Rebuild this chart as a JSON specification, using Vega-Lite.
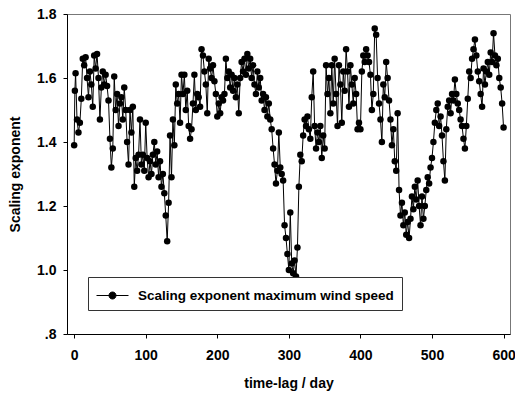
{
  "$schema": "https://vega.github.io/schema/vega-lite/v6.json",
  "width": 443,
  "height": 320,
  "autosize": {"type": "none"},
  "padding": {"left": 67, "top": 14, "right": 5, "bottom": 61},
  "background": "white",
  "config": {
    "view": {"stroke": "#777", "strokeWidth": 1},
    "font": "Liberation Sans",
    "axis": {
      "labelFont": "Liberation Sans", "labelFontWeight": "bold", "labelFontSize": 14, "labelColor": "black",
      "titleFont": "Liberation Sans", "titleFontWeight": "bold", "titleFontSize": 14, "titleColor": "black",
      "domainColor": "black", "tickColor": "black", "tickSize": 4, "grid": false
    }
  },
  "data": {"values": [
    {"d":0,"v":1.39},{"d":1,"v":1.56},{"d":2,"v":1.615},{"d":4,"v":1.47},{"d":6,"v":1.43},{"d":8,"v":1.46},{"d":10,"v":1.535},{"d":12,"v":1.66},{"d":14,"v":1.64},{"d":16,"v":1.665},{"d":18,"v":1.60},
    {"d":20,"v":1.54},{"d":22,"v":1.62},{"d":24,"v":1.58},{"d":26,"v":1.51},{"d":28,"v":1.67},{"d":30,"v":1.63},{"d":32,"v":1.675},{"d":34,"v":1.60},{"d":36,"v":1.47},{"d":38,"v":1.57},
    {"d":40,"v":1.62},{"d":42,"v":1.58},{"d":44,"v":1.61},{"d":46,"v":1.575},{"d":48,"v":1.53},{"d":50,"v":1.41},{"d":52,"v":1.32},{"d":54,"v":1.38},{"d":56,"v":1.605},{"d":58,"v":1.50},
    {"d":60,"v":1.55},{"d":62,"v":1.45},{"d":64,"v":1.52},{"d":66,"v":1.54},{"d":68,"v":1.47},{"d":70,"v":1.57},{"d":72,"v":1.50},{"d":74,"v":1.40},{"d":76,"v":1.33},{"d":78,"v":1.50},
    {"d":80,"v":1.43},{"d":82,"v":1.51},{"d":84,"v":1.26},{"d":86,"v":1.35},{"d":88,"v":1.31},{"d":90,"v":1.36},{"d":92,"v":1.47},{"d":94,"v":1.33},{"d":96,"v":1.36},{"d":98,"v":1.31},
    {"d":100,"v":1.46},{"d":102,"v":1.35},{"d":104,"v":1.29},{"d":106,"v":1.34},{"d":108,"v":1.30},{"d":110,"v":1.36},{"d":112,"v":1.40},{"d":114,"v":1.33},{"d":116,"v":1.37},{"d":118,"v":1.29},
    {"d":120,"v":1.34},{"d":122,"v":1.26},{"d":124,"v":1.30},{"d":126,"v":1.24},{"d":128,"v":1.17},{"d":130,"v":1.09},{"d":132,"v":1.21},{"d":134,"v":1.42},{"d":136,"v":1.29},{"d":138,"v":1.47},
    {"d":140,"v":1.39},{"d":142,"v":1.58},{"d":144,"v":1.52},{"d":146,"v":1.55},{"d":148,"v":1.46},{"d":150,"v":1.61},{"d":152,"v":1.55},{"d":154,"v":1.61},{"d":156,"v":1.50},{"d":158,"v":1.56},
    {"d":160,"v":1.45},{"d":162,"v":1.41},{"d":164,"v":1.44},{"d":166,"v":1.52},{"d":168,"v":1.61},{"d":170,"v":1.50},{"d":172,"v":1.55},{"d":174,"v":1.54},{"d":176,"v":1.51},{"d":178,"v":1.69},
    {"d":180,"v":1.67},{"d":182,"v":1.62},{"d":184,"v":1.58},{"d":186,"v":1.49},{"d":188,"v":1.66},{"d":190,"v":1.63},{"d":192,"v":1.60},{"d":194,"v":1.64},{"d":196,"v":1.59},{"d":198,"v":1.55},
    {"d":200,"v":1.48},{"d":202,"v":1.52},{"d":204,"v":1.49},{"d":206,"v":1.54},{"d":208,"v":1.53},{"d":210,"v":1.55},{"d":212,"v":1.66},{"d":214,"v":1.60},{"d":216,"v":1.62},{"d":218,"v":1.57},
    {"d":220,"v":1.61},{"d":222,"v":1.56},{"d":224,"v":1.60},{"d":226,"v":1.54},{"d":228,"v":1.58},{"d":230,"v":1.49},{"d":232,"v":1.60},{"d":234,"v":1.65},{"d":236,"v":1.62},{"d":238,"v":1.66},
    {"d":240,"v":1.61},{"d":242,"v":1.675},{"d":244,"v":1.63},{"d":246,"v":1.66},{"d":248,"v":1.60},{"d":250,"v":1.64},{"d":252,"v":1.58},{"d":254,"v":1.55},{"d":256,"v":1.62},{"d":258,"v":1.57},
    {"d":260,"v":1.60},{"d":262,"v":1.53},{"d":264,"v":1.55},{"d":266,"v":1.50},{"d":268,"v":1.54},{"d":270,"v":1.48},{"d":272,"v":1.52},{"d":274,"v":1.47},{"d":276,"v":1.44},{"d":278,"v":1.38},
    {"d":280,"v":1.33},{"d":282,"v":1.27},{"d":284,"v":1.31},{"d":286,"v":1.43},{"d":288,"v":1.32},{"d":290,"v":1.30},{"d":292,"v":1.28},{"d":294,"v":1.14},{"d":296,"v":1.10},{"d":298,"v":1.05},
    {"d":300,"v":1.00},{"d":302,"v":1.18},{"d":304,"v":1.02},{"d":306,"v":0.99},{"d":308,"v":1.03},{"d":310,"v":0.98},{"d":312,"v":1.07},{"d":314,"v":1.26},{"d":316,"v":1.36},{"d":318,"v":1.34},
    {"d":320,"v":1.42},{"d":322,"v":1.47},{"d":324,"v":1.45},{"d":326,"v":1.48},{"d":328,"v":1.44},{"d":330,"v":1.41},{"d":332,"v":1.54},{"d":334,"v":1.62},{"d":336,"v":1.45},{"d":338,"v":1.38},
    {"d":340,"v":1.43},{"d":342,"v":1.40},{"d":344,"v":1.45},{"d":346,"v":1.35},{"d":348,"v":1.42},{"d":350,"v":1.38},{"d":352,"v":1.64},{"d":354,"v":1.55},{"d":356,"v":1.60},{"d":358,"v":1.49},
    {"d":360,"v":1.64},{"d":362,"v":1.52},{"d":364,"v":1.66},{"d":366,"v":1.55},{"d":368,"v":1.45},{"d":370,"v":1.64},{"d":372,"v":1.58},{"d":374,"v":1.46},{"d":376,"v":1.62},{"d":378,"v":1.56},
    {"d":380,"v":1.69},{"d":382,"v":1.62},{"d":384,"v":1.51},{"d":386,"v":1.64},{"d":388,"v":1.58},{"d":390,"v":1.52},{"d":392,"v":1.60},{"d":394,"v":1.55},{"d":396,"v":1.44},{"d":398,"v":1.46},
    {"d":400,"v":1.44},{"d":402,"v":1.62},{"d":404,"v":1.67},{"d":406,"v":1.65},{"d":408,"v":1.69},{"d":410,"v":1.67},{"d":412,"v":1.65},{"d":414,"v":1.61},{"d":416,"v":1.50},{"d":418,"v":1.55},
    {"d":420,"v":1.755},{"d":422,"v":1.735},{"d":424,"v":1.60},{"d":426,"v":1.52},{"d":428,"v":1.47},{"d":430,"v":1.40},{"d":432,"v":1.58},{"d":434,"v":1.54},{"d":436,"v":1.65},{"d":438,"v":1.60},
    {"d":440,"v":1.53},{"d":442,"v":1.47},{"d":444,"v":1.39},{"d":446,"v":1.44},{"d":448,"v":1.34},{"d":450,"v":1.31},{"d":452,"v":1.49},{"d":454,"v":1.25},{"d":456,"v":1.17},{"d":458,"v":1.21},
    {"d":460,"v":1.14},{"d":462,"v":1.18},{"d":464,"v":1.11},{"d":466,"v":1.15},{"d":468,"v":1.10},{"d":470,"v":1.16},{"d":472,"v":1.23},{"d":474,"v":1.19},{"d":476,"v":1.26},{"d":478,"v":1.22},
    {"d":480,"v":1.28},{"d":482,"v":1.20},{"d":484,"v":1.14},{"d":486,"v":1.23},{"d":488,"v":1.16},{"d":490,"v":1.20},{"d":492,"v":1.25},{"d":494,"v":1.29},{"d":496,"v":1.27},{"d":498,"v":1.32},
    {"d":500,"v":1.35},{"d":502,"v":1.40},{"d":504,"v":1.46},{"d":506,"v":1.50},{"d":508,"v":1.52},{"d":510,"v":1.45},{"d":512,"v":1.48},{"d":514,"v":1.42},{"d":516,"v":1.34},{"d":518,"v":1.28},
    {"d":520,"v":1.44},{"d":522,"v":1.51},{"d":524,"v":1.53},{"d":526,"v":1.49},{"d":528,"v":1.55},{"d":530,"v":1.53},{"d":532,"v":1.595},{"d":534,"v":1.55},{"d":536,"v":1.52},{"d":538,"v":1.50},
    {"d":540,"v":1.47},{"d":542,"v":1.45},{"d":544,"v":1.41},{"d":546,"v":1.38},{"d":548,"v":1.45},{"d":550,"v":1.535},{"d":552,"v":1.62},{"d":554,"v":1.60},{"d":556,"v":1.66},{"d":558,"v":1.69},
    {"d":560,"v":1.72},{"d":562,"v":1.67},{"d":564,"v":1.62},{"d":566,"v":1.59},{"d":568,"v":1.55},{"d":570,"v":1.51},{"d":572,"v":1.63},{"d":574,"v":1.58},{"d":576,"v":1.62},{"d":578,"v":1.65},
    {"d":580,"v":1.61},{"d":582,"v":1.68},{"d":584,"v":1.65},{"d":586,"v":1.74},{"d":588,"v":1.67},{"d":590,"v":1.64},{"d":592,"v":1.66},{"d":594,"v":1.60},{"d":596,"v":1.57},{"d":598,"v":1.52},
    {"d":600,"v":1.445}
  ]},
  "mark": {"type": "line", "strokeWidth": 1, "color": "#222", "point": {"filled": true, "size": 42, "opacity": 1, "color": "black"}},
  "encoding": {
    "x": {"field": "d", "type": "quantitative", "title": "time-lag / day",
      "scale": {"domain": [-10, 609], "nice": false, "zero": false},
      "axis": {"values": [0, 100, 200, 300, 400, 500, 600], "labelPadding": 10, "titlePadding": 14, "labelFlush": false}},
    "y": {"field": "v", "type": "quantitative", "title": "Scaling exponent",
      "scale": {"domain": [0.8, 1.8], "nice": false, "zero": false},
      "axis": {"values": [0.8, 1.0, 1.2, 1.4, 1.6, 1.8], "labelExpr": "datum.value < 0.9 ? '.8' : format(datum.value, '.1f')", "labelPadding": 7, "titlePadding": 14, "labelFlush": false}},
    "color": {"datum": "Scaling exponent maximum wind speed", "type": "nominal",
      "scale": {"range": ["black"]},
      "legend": {"title": null, "orient": "none", "legendX": 21, "legendY": 263,
        "strokeColor": "#333", "fillColor": "white", "padding": 8,
        "symbolType": "M-1,0L2.2,0M0.25,0A0.35,0.35 0 1,1 0.95,0A0.35,0.35 0 1,1 0.25,0Z",
        "symbolSize": 400, "symbolStrokeWidth": 1, "symbolFillColor": "black", "symbolStrokeColor": "black",
        "labelFont": "Liberation Sans", "labelFontWeight": "bold", "labelFontSize": 13.5, "labelColor": "black", "labelOffset": 21, "labelLimit": 0}}
  }
}
